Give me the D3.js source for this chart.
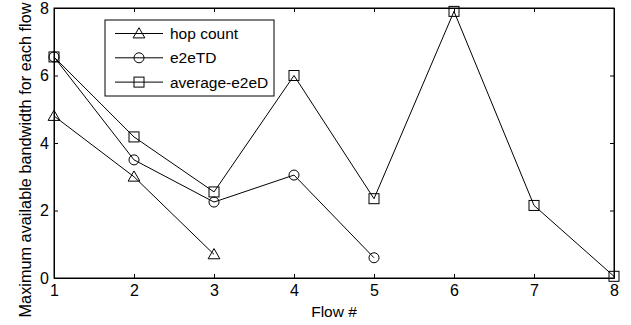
<!DOCTYPE html>
<html>
<head>
<meta charset="utf-8">
<script src="https://cdn.jsdelivr.net/npm/d3@7/dist/d3.min.js"></script>
<style>
  body { margin: 0; background: #fff; }
  text { font-family: "Liberation Sans", Arial, sans-serif; fill: #000; }
</style>
</head>
<body>
<svg width="631" height="325"></svg>
<script>
// flows on the x axis
const flows = [1, 2, 3, 4, 5, 6, 7, 8];
const yTicks = [0, 2, 4, 6, 8];

// series values
const hopCount = [4.8, 3.0, 0.7];
const e2eTD = [6.55, 3.5, 2.25, 3.05, 0.6];
const avgE2eD = [6.55, 4.18, 2.55, 6.0, 2.35, 7.9, 2.15, 0.05];

const seriesNames = ["hop count", "e2eTD", "average-e2eD"];
const seriesMarkers = ["triangle", "circle", "square"];

const margin = {top: 8, right: 17, bottom: 47, left: 54};
const width = 631, height = 325;

const svg = d3.select("svg");

const x = d3.scaleLinear().domain([1, 8]).range([margin.left, width - margin.right]);
const y = d3.scaleLinear().domain([0, 8]).range([height - margin.bottom, margin.top]);

// frame
svg.append("rect")
  .attr("x", x(1)).attr("y", y(8))
  .attr("width", x(8) - x(1)).attr("height", y(0) - y(8))
  .attr("fill", "none").attr("stroke", "#000").attr("stroke-width", 1);

const tickLen = 4;

// bottom axis
const xAxis = svg.append("g")
  .attr("transform", "translate(0," + y(0) + ")")
  .call(d3.axisBottom(x).tickValues(flows).tickFormat(d3.format("d")).tickSizeInner(-tickLen).tickSizeOuter(0).tickPadding(7));
// top ticks
svg.append("g")
  .attr("transform", "translate(0," + y(8) + ")")
  .call(d3.axisTop(x).tickValues(flows).tickFormat("").tickSizeInner(-tickLen).tickSizeOuter(0));
// left axis
const yAxis = svg.append("g")
  .attr("transform", "translate(" + x(1) + ",0)")
  .call(d3.axisLeft(y).tickValues(yTicks).tickFormat(d3.format("d")).tickSizeInner(-tickLen).tickSizeOuter(0).tickPadding(5));
// right ticks
svg.append("g")
  .attr("transform", "translate(" + x(8) + ",0)")
  .call(d3.axisRight(y).tickValues(yTicks).tickFormat("").tickSizeInner(-tickLen).tickSizeOuter(0));

svg.selectAll(".domain").attr("stroke", "#000");
svg.selectAll(".tick line").attr("stroke", "#000");
svg.selectAll(".tick text").style("font-size", "16px").attr("fill", "#000");

// axis labels
svg.append("text")
  .attr("x", (x(1) + x(8)) / 2).attr("y", 317)
  .attr("text-anchor", "middle").style("font-size", "15.5px")
  .text("Flow #");
svg.append("text")
  .attr("transform", "translate(31,160) rotate(-90)")
  .attr("text-anchor", "middle").style("font-size", "16.3px")
  .text("Maximum available bandwidth for each flow");

const line = d3.line().x((d, i) => x(flows[i])).y(d => y(d));

function marker(g, type, cx, cy) {
  if (type === "circle") {
    g.append("circle").attr("cx", cx).attr("cy", cy).attr("r", 5)
      .attr("fill", "none").attr("stroke", "#000");
  } else if (type === "square") {
    g.append("rect").attr("x", cx - 5).attr("y", cy - 5).attr("width", 10).attr("height", 10)
      .attr("fill", "none").attr("stroke", "#000");
  } else {
    g.append("path")
      .attr("d", d3.symbol().type(d3.symbolTriangle).size(60)())
      .attr("transform", "translate(" + cx + "," + (cy + 1) + ")")
      .attr("fill", "none").attr("stroke", "#000");
  }
}

const allSeries = [hopCount, e2eTD, avgE2eD];
allSeries.forEach((vals, s) => {
  const g = svg.append("g");
  g.append("path").attr("d", line(vals))
    .attr("fill", "none").attr("stroke", "#000").attr("stroke-width", 1);
  vals.forEach((v, i) => marker(g, seriesMarkers[s], x(flows[i]), y(v)));
});

// legend
const leg = svg.append("g").attr("transform", "translate(105,20)");
leg.append("rect").attr("x", 0).attr("y", 0).attr("width", 169).attr("height", 76)
  .attr("fill", "#fff").attr("stroke", "#000");
seriesNames.forEach((name, i) => {
  const ly = 13.5 + i * 24.3;
  leg.append("line").attr("x1", 10).attr("x2", 58).attr("y1", ly).attr("y2", ly)
    .attr("stroke", "#000");
  marker(leg, seriesMarkers[i], 34, ly);
  leg.append("text").attr("x", 65).attr("y", ly).attr("dy", "0.35em")
    .style("font-size", "15.5px").text(name);
});
</script>
</body>
</html>
